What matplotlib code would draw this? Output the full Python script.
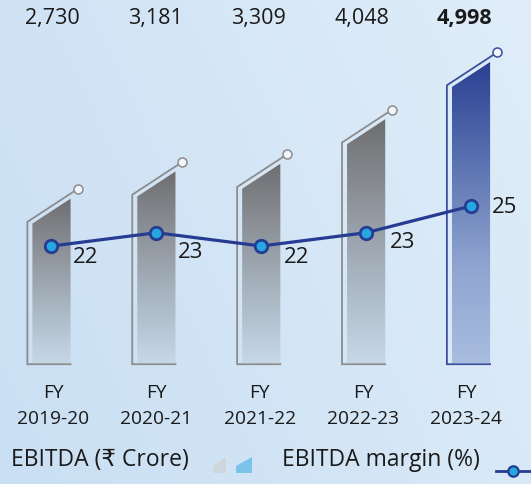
import matplotlib.pyplot as plt
import numpy as np
from matplotlib.patches import Polygon
from matplotlib.colors import LinearSegmentedColormap
import matplotlib.transforms as mtransforms

# data
years = ["FY\n2019-20", "FY\n2020-21", "FY\n2021-22", "FY\n2022-23", "FY\n2023-24"]
ebitda = [2730, 3181, 3309, 4048, 4998]
ebitda_labels = ["2,730", "3,181", "3,309", "4,048", "4,998"]
margin = [22, 23, 22, 23, 25]

fam = ["Open Sans", "DejaVu Sans"]
plt.rcParams["font.family"] = fam

fig = plt.figure(figsize=(5.31, 4.85), dpi=100)

# background gradient
bg = fig.add_axes([0, 0, 1, 1], zorder=-10)
bg.axis("off")
bgcm = LinearSegmentedColormap.from_list("bg", ["#c9dff3", "#d4e6f6", "#e0edf9"])
gx = np.linspace(0, 1, 200)
gy = np.linspace(0, 1, 200)
GX, GY = np.meshgrid(gx, gy)
bg.imshow(0.7 * GX + 0.3 * (1 - GY), cmap=bgcm, aspect="auto", extent=[0, 1, 0, 1])

ax = fig.add_axes([0, 0, 1, 1])
ax.patch.set_alpha(0)
ax.set_xlim(-0.491, 4.572)
ax.set_ylim(-2009, 6044)
ax.axis("off")

ax2 = ax.twinx()
ax2.set_ylim(4.15, 40.53)
ax2.axis("off")

hw = 0.182      # half width of filled bar
off = 0.048     # outline offset to the left
slant = 415     # drop of top-left corner
lift = 83       # outline above fill

gray_cm = LinearSegmentedColormap.from_list("g", ["#6e6e70", "#8e939a", "#aab7c3", "#c6d7e6"])
blue_cm = LinearSegmentedColormap.from_list("b", ["#2b3f92", "#5a72b0", "#8ea3cf", "#a9bde0"])

for i, v in enumerate(ebitda):
    last = i == len(ebitda) - 1
    cm = blue_cm if last else gray_cm
    ec = "#3b4f9e" if last else "#8c8c8c"
    x0, x1 = i - hw, i + hw
    poly = Polygon([(x0, 0), (x1, 0), (x1, v), (x0, v - slant)], closed=True,
                   facecolor="none", edgecolor="none")
    ax.add_patch(poly)
    grad = np.linspace(1, 0, 256).reshape(-1, 1)
    im = ax.imshow(grad, cmap=cm, aspect="auto", extent=[x0, x1, 0, v],
                   origin="lower", zorder=2)
    im.set_clip_path(poly)
    # outline
    ox = x0 - off
    s = slant / (2 * hw)
    cx = x1 + 0.067
    ytop_left = v - slant + lift - s * off
    ycirc = ytop_left + s * (cx - ox)
    ax.plot([x1, ox, ox, cx], [-20, -20, ytop_left, ycirc], color=ec, lw=1.3,
            zorder=1, solid_joinstyle="miter")
    ax.plot(cx, ycirc, "o", ms=6.5, mfc="#f2f6fa", mec=ec, mew=1.1, zorder=3)

# value labels on top and category labels below
tr = mtransforms.blended_transform_factory(ax.transData, ax.transAxes)
for i, lab in enumerate(ebitda_labels):
    ax.text(0.982 * i + 0.01, 0.962, lab, transform=tr, ha="center", va="center",
            fontsize=15.5, color="#1a1a1a", fontweight="bold" if i == 4 else "normal")
    ax.text(0.985 * i + 0.015, 0.163, years[i], transform=tr, ha="center", va="center",
            fontsize=13.8, color="#1a1a1a", linespacing=1.55)

# margin line
xs = np.arange(len(margin))
ax2.plot(xs, margin, color="#263c92", lw=2.3, zorder=5)
ax2.plot(xs, margin, "o", ms=9, mfc="#27a7e1", mec="#263c92", mew=2, zorder=6)
lab_off = [(0.33, -0.75), (0.33, -1.4), (0.34, -0.75), (0.35, -0.65), (0.32, 0.0)]
for i, m in enumerate(margin):
    ax2.text(i + lab_off[i][0], m + lab_off[i][1], str(m), ha="center", va="center",
             fontsize=16, color="#1a1a1a", zorder=7)

# legend
fig.text(0.021, 0.052, "EBITDA (₹ Crore)", fontsize=16.5, color="#1a1a1a",
         ha="left", va="center", family=fam)
fig.text(0.531, 0.052, "EBITDA margin (%)", fontsize=16.5, color="#1a1a1a",
         ha="left", va="center", family=fam)
lg = fig.add_axes([0, 0, 1, 1], zorder=5)
lg.set_xlim(0, 531)
lg.set_ylim(485, 0)
lg.axis("off")
lg.patch.set_alpha(0)
lg.add_patch(Polygon([(213, 474), (226, 474), (226, 458), (213, 467)], fc="#ced5dc", ec="none"))
lg.add_patch(Polygon([(236, 474), (252, 474), (252, 458), (236, 467)], fc="#7cc3ec", ec="none"))
lg.plot([496, 531], [472, 472], color="#263c92", lw=2)
lg.plot(513, 472, "o", ms=7.5, mfc="#27a7e1", mec="#263c92", mew=1.6)

fig.savefig("out.png", dpi=100)
